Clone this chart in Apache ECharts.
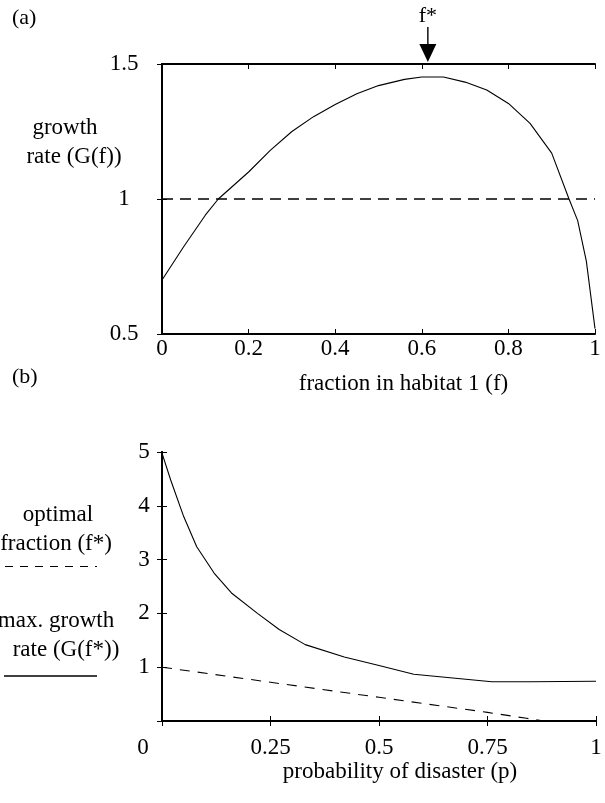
<!DOCTYPE html>
<html>
<head>
<meta charset="utf-8">
<script src="https://cdn.jsdelivr.net/npm/echarts@6/dist/echarts.min.js"></script>
<style>
html,body{margin:0;padding:0;background:#fff;}
#chart{width:605px;height:803px;}
</style>
</head>
<body>
<div id="chart"></div>
<script>
// Panel (a): growth rate vs fraction in habitat 1
const fracF   = [0, 0.05, 0.1, 0.13, 0.2, 0.25, 0.3, 0.35, 0.4, 0.45, 0.5, 0.56, 0.6, 0.65, 0.7, 0.75, 0.8, 0.85, 0.9, 0.94, 0.96, 0.98, 1.0];
const growthG = [0.70, 0.823, 0.94, 1.0, 1.10, 1.18, 1.25, 1.305, 1.35, 1.39, 1.42, 1.443, 1.452, 1.452, 1.433, 1.404, 1.354, 1.28, 1.17, 1.0, 0.92, 0.77, 0.52];
const baseF = [0, 1];
const baseG = [1, 1];
const fStar = 0.614;

// Panel (b): optimum vs probability of disaster
const probP      = [0, 0.02, 0.05, 0.08, 0.12, 0.16, 0.22, 0.27, 0.33, 0.42, 0.5, 0.58, 0.67, 0.76, 0.85, 1.0];
const maxGrowth  = [4.98, 4.48, 3.80, 3.24, 2.75, 2.38, 2.0, 1.70, 1.42, 1.19, 1.03, 0.87, 0.80, 0.73, 0.73, 0.74];
const probP2     = [0, 0.25, 0.5, 0.75, 0.84, 0.88, 1.0];
const optFrac    = [1.0, 0.72, 0.44, 0.16, 0.05, 0.0, 0.0];

const FONT = '"Liberation Serif", "DejaVu Serif", serif';
const FS = 23;
const zip = (a, b) => a.map((v, i) => [v, b[i]]);

const chart = echarts.init(document.getElementById('chart'), null, {renderer: 'canvas'});

function boxAxis(extra) {
  return Object.assign({
    type: 'value',
    axisLine: {show: true, lineStyle: {color: '#000', width: 2}},
    axisTick: {show: true, inside: true, length: 5, lineStyle: {color: '#000', width: 1}},
    splitLine: {show: false},
    axisLabel: {show: false}
  }, extra);
}
const lbl = (extra) => Object.assign({show: true, color: '#000', fontFamily: FONT, fontSize: FS}, extra);
const txt = (x, y, s) => ({type: 'text', x: x, y: y,
  style: {text: s, font: FS + 'px ' + FONT, fill: '#000', align: 'center', verticalAlign: 'middle'}});

const option = {
  backgroundColor: '#fff',
  animation: false,
  grid: [
    {left: 162, right: 10, top: 64, height: 270},
    {left: 162, right: 9, top: 452, height: 269}
  ],
  xAxis: [
    boxAxis({gridIndex: 0, min: 0, max: 1, interval: 0.2, position: 'bottom',
      axisLabel: lbl({margin: 3}),
      name: 'fraction in habitat 1 (f)', nameLocation: 'middle', nameGap: 38,
      nameTextStyle: {color: '#000', fontFamily: FONT, fontSize: FS, padding: [0, 0, 0, 50]}}),
    boxAxis({gridIndex: 0, min: 0, max: 1, interval: 0.2, position: 'top'}),
    boxAxis({gridIndex: 1, min: 0, max: 1, interval: 0.25, position: 'bottom',
      axisLabel: lbl({margin: 15, formatter: v => v === 0 ? '{z|0}' : String(v),
        rich: {z: {fontFamily: FONT, fontSize: FS, color: '#000', padding: [0, 38, 0, 0]}}}),
      name: 'probability of disaster (p)', nameLocation: 'middle', nameGap: 39,
      nameTextStyle: {color: '#000', fontFamily: FONT, fontSize: FS, padding: [0, 0, 0, 42]}}),
    boxAxis({gridIndex: 1, min: 0, max: 1, interval: 0.25, position: 'top'})
  ],
  yAxis: [
    boxAxis({gridIndex: 0, min: 0.5, max: 1.5, interval: 0.5, position: 'left',
      axisLabel: lbl({margin: 38, align: 'center'})}),
    boxAxis({gridIndex: 0, min: 0.5, max: 1.5, interval: 0.5, position: 'right'}),
    boxAxis({gridIndex: 1, min: 0, max: 5, interval: 1, position: 'left',
      axisLabel: lbl({margin: 18, align: 'center', formatter: v => v === 0 ? '' : String(v)})}),
    boxAxis({gridIndex: 1, min: 0, max: 5, interval: 1, position: 'right'})
  ],
  series: [
    {
      type: 'line', xAxisIndex: 0, yAxisIndex: 0, data: zip(fracF, growthG),
      showSymbol: false, symbol: 'none', lineStyle: {color: '#000', width: 1.1}, clip: false,
      markPoint: {
        silent: true,
        symbol: 'path://M7.8,0 L9.2,0 L9.2,17 L17,17 L8.5,35 L0,17 L7.8,17 Z',
        symbolSize: [17, 35],
        symbolOffset: [0, -19.5],
        itemStyle: {color: '#000'},
        label: {show: true, position: 'top', distance: 0, formatter: 'f*',
                color: '#000', fontFamily: FONT, fontSize: 22},
        data: [{coord: [fStar, 1.5]}]
      }
    },
    {
      type: 'line', xAxisIndex: 0, yAxisIndex: 0, data: zip(baseF, baseG),
      showSymbol: false, symbol: 'none', lineStyle: {color: '#000', width: 1.3, type: [11, 7]}
    },
    {
      type: 'line', xAxisIndex: 2, yAxisIndex: 2, data: zip(probP, maxGrowth),
      showSymbol: false, symbol: 'none', lineStyle: {color: '#000', width: 1.1}
    },
    {
      type: 'line', xAxisIndex: 2, yAxisIndex: 2, data: zip(probP2, optFrac),
      showSymbol: false, symbol: 'none', lineStyle: {color: '#000', width: 1.1, type: [10, 8]}
    }
  ],
  graphic: [
    {type: 'text', left: 12, top: 7, style: {text: '(a)', font: '22px ' + FONT, fill: '#000'}},
    {type: 'text', left: 12, top: 366, style: {text: '(b)', font: '22px ' + FONT, fill: '#000'}},
    txt(65, 128, 'growth'),
    txt(74, 157, 'rate (G(f))'),
    txt(58, 515, 'optimal'),
    txt(56, 544, 'fraction (f*)'),
    {type: 'line', shape: {x1: 5, y1: 566.5, x2: 97, y2: 566.5}, style: {stroke: '#000', lineWidth: 1.2, lineDash: [8, 7]}},
    txt(56, 621, 'max. growth'),
    txt(66, 650, 'rate (G(f*))'),
    {type: 'line', shape: {x1: 4, y1: 676, x2: 97, y2: 676}, style: {stroke: '#000', lineWidth: 1.5}}
  ]
};
chart.setOption(option);
</script>
</body>
</html>
